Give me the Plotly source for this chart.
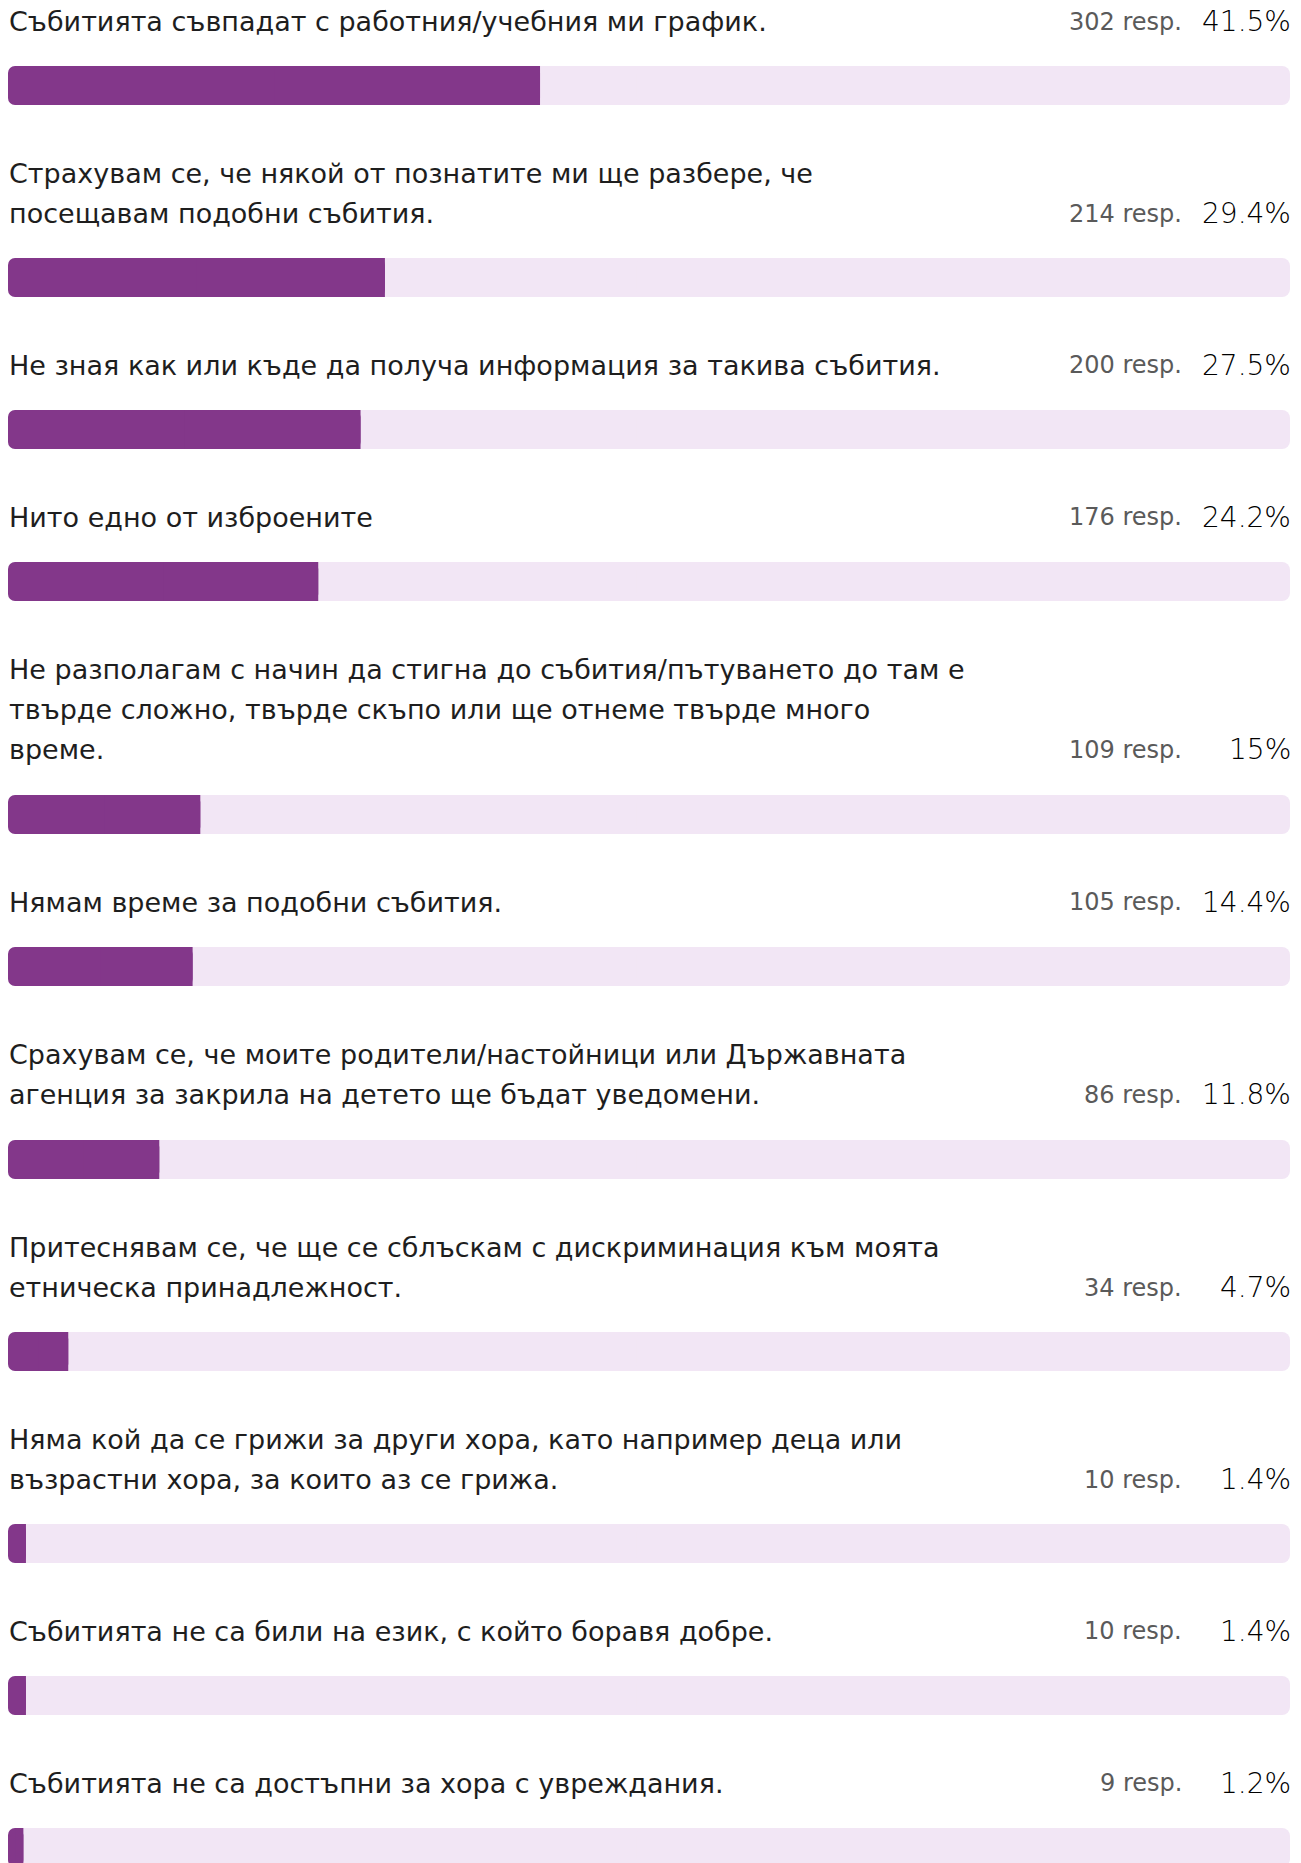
import plotly.graph_objects as go

# survey answers (line breaks as in the original layout)
labels = [
    "Събитията съвпадат с работния/учебния ми график.",
    "Страхувам се, че някой от познатите ми ще разбере, че\nпосещавам подобни събития.",
    "Не зная как или къде да получа информация за такива събития.",
    "Нито едно от изброените",
    "Не разполагам с начин да стигна до събития/пътуването до там е\nтвърде сложно, твърде скъпо или ще отнеме твърде много\nвреме.",
    "Нямам време за подобни събития.",
    "Срахувам се, че моите родители/настойници или Държавната\nагенция за закрила на детето ще бъдат уведомени.",
    "Притеснявам се, че ще се сблъскам с дискриминация към моята\nетническа принадлежност.",
    "Няма кой да се грижи за други хора, като например деца или\nвъзрастни хора, за които аз се грижа.",
    "Събитията не са били на език, с който боравя добре.",
    "Събитията не са достъпни за хора с увреждания.",
]
responses = [302, 214, 200, 176, 109, 105, 86, 34, 10, 10, 9]
percents = [41.5, 29.4, 27.5, 24.2, 15, 14.4, 11.8, 4.7, 1.4, 1.4, 1.2]

W, H = 1301, 1863
FONT = "DejaVu Sans"
FILL = "#83378A"
TRACK = "#F2E6F5"

LINE_H = 40.4
TEXT_TO_BAR = 45.0
BAR_H = 39
GAP = 68.1
X0, X1 = 8, 1290  # pixel span of 0..100 %
px_per = (X1 - X0) / 100.0

y = 21.5
line_ys, bar_ys, last_ys = [], [], []
for lab in labels:
    lines = lab.split("\n")
    ys = [y + LINE_H * j for j in range(len(lines))]
    line_ys.append(list(zip(lines, ys)))
    last_ys.append(ys[-1])
    top = round(ys[-1] + TEXT_TO_BAR)  # whole pixels keep the bar edges crisp
    bar_ys.append(top + BAR_H / 2)
    y = top + BAR_H + GAP

fig = go.Figure()
n = len(labels)
# background track, drawn as two halves so both ends get rounded
fig.add_trace(go.Bar(orientation="h", y=bar_ys, x=[-51] * n, base=[51] * n, width=BAR_H, opacity=1,
                     marker=dict(color=TRACK, line_width=0, cornerradius=8), hoverinfo="skip"))
fig.add_trace(go.Bar(orientation="h", y=bar_ys, x=[51] * n, base=[49] * n, width=BAR_H, opacity=1,
                     marker=dict(color=TRACK, line_width=0, cornerradius=8), hoverinfo="skip"))
# filled part: rounded on the left ...
fig.add_trace(go.Bar(orientation="h", y=bar_ys, x=[-p for p in percents], base=percents, width=BAR_H,
                     opacity=1, marker=dict(color=FILL, line_width=0, cornerradius=7), hoverinfo="skip"))
# ... and square where it ends
fig.add_trace(go.Bar(orientation="h", y=bar_ys, x=[p / 2 for p in percents], base=[p / 2 for p in percents],
                     width=BAR_H, opacity=1,
                     marker=dict(color=FILL, line_width=0, cornerradius=0), hoverinfo="skip"))

ann = []
for lines in line_ys:
    for txt, ly in lines:
        ann.append(dict(x=7 / W, xref="paper", y=ly, yref="y", text=txt, showarrow=False,
                        xanchor="left", yanchor="middle", font=dict(family=FONT, size=27, color="#1e1e1e")))
for r, p, ly in zip(responses, percents, last_ys):
    ann.append(dict(x=1184 / W, xref="paper", y=ly, yref="y", text=f"{r} resp.", showarrow=False,
                    xanchor="right", yanchor="middle", font=dict(family=FONT, size=24, color="#5a5a5a")))
    ann.append(dict(x=1293 / W, xref="paper", y=ly, yref="y", text=f"{p:g}%", showarrow=False,
                    xanchor="right", yanchor="middle",
                    font=dict(family=FONT, size=28, color="#000000", weight=300)))

fig.update_layout(
    width=W, height=H,
    margin=dict(l=0, r=0, t=0, b=0),
    barmode="overlay",
    showlegend=False,
    plot_bgcolor="white", paper_bgcolor="white",
    xaxis=dict(range=[-X0 / px_per, 100 + (W - X1) / px_per], visible=False, fixedrange=True),
    yaxis=dict(range=[H, 0], visible=False, fixedrange=True),
    annotations=ann,
)
fig.write_html("out.html", config={"displayModeBar": False},
               post_script="document.body.style.margin='0';document.body.style.overflow='hidden';")
